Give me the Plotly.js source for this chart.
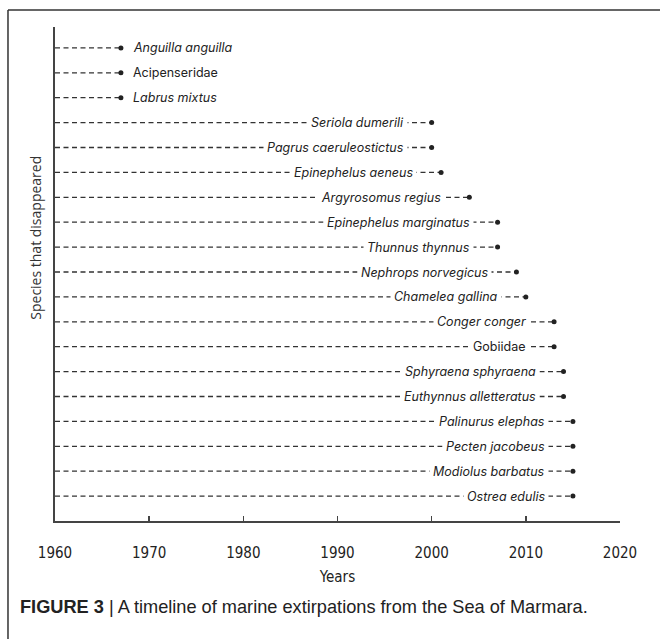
<!DOCTYPE html>
<html>
<head>
<meta charset="utf-8">
<script src="https://cdn.plot.ly/plotly-3.0.1.min.js"></script>
<style>
  html, body { margin: 0; padding: 0; background: #fff; }
  #chart { width: 660px; height: 639px; }
</style>
</head>
<body>
<div id="chart"></div>
<script>
// ---- data ----
const species = [
  "Anguilla anguilla", "Acipenseridae", "Labrus mixtus", "Seriola dumerili",
  "Pagrus caeruleostictus", "Epinephelus aeneus", "Argyrosomus regius",
  "Epinephelus marginatus", "Thunnus thynnus", "Nephrops norvegicus",
  "Chamelea gallina", "Conger conger", "Gobiidae", "Sphyraena sphyraena",
  "Euthynnus alletteratus", "Palinurus elephas", "Pecten jacobeus",
  "Modiolus barbatus", "Ostrea edulis"
];
const yearLost = [1967, 1967, 1967, 2000, 2000, 2001, 2004, 2007, 2007, 2009,
                  2010, 2013, 2013, 2014, 2014, 2015, 2015, 2015, 2015];
const italicName = [true, false, true, true, true, true, true, true, true, true,
                    true, true, false, true, true, true, true, true, true];
const labelRight = [true, true, true, false, false, false, false, false, false, false,
                    false, false, false, false, false, false, false, false, false];
const startYear = 1960;
const xTicks = [1960, 1970, 1980, 1990, 2000, 2010, 2020];
const xTitle = "Years";
const yTitle = "Species that disappeared";
const caption = "<b>FIGURE 3</b> | A timeline of marine extirpations from the Sea of Marmara.";

// ---- traces ----
const lx = [], ly = [];
species.forEach((s, i) => { lx.push(startYear, yearLost[i], null); ly.push(s, s, null); });

const dashTrace = {
  type: "scatter", mode: "lines", x: lx, y: ly,
  line: { color: "#333", width: 1.3, dash: "5px,3.5px" },
  hoverinfo: "skip", showlegend: false, connectgaps: false
};
const dotTrace = {
  type: "scatter", mode: "markers", x: yearLost, y: species,
  marker: { color: "#222", size: 5 },
  showlegend: false
};

const labelFont = { family: "Inter, 'Open Sans', sans-serif", size: 12.5, color: "#222" };
const annotations = species.map((s, i) => ({
  x: yearLost[i], y: s, xref: "x", yref: "y",
  text: italicName[i] ? "<i>" + s + "</i>" : s,
  showarrow: false,
  xanchor: labelRight[i] ? "left" : "right",
  yanchor: "middle",
  xshift: labelRight[i] ? 8 : -24,
  bgcolor: "#fff", borderpad: 3,
  font: labelFont
}));

// y title (offset from axis centre, as in the figure)
annotations.push({
  xref: "paper", yref: "paper", x: -0.034, y: 0.573,
  text: yTitle, textangle: -90, showarrow: false,
  xanchor: "center", yanchor: "middle",
  font: { family: "'Open Sans', sans-serif", size: 14, color: "#333" }
});
// caption
annotations.push({
  xref: "paper", yref: "paper", x: -0.0655, y: -0.174,
  text: caption, showarrow: false, xanchor: "left", yanchor: "middle",
  font: { family: "'Liberation Sans', Arial, sans-serif", size: 18.2, color: "#222" }
});

const shapes = [
  { type: "line", xref: "paper", yref: "paper", x0: -0.0832, x1: 1.08, y0: 1.0344, y1: 1.0344,
    line: { color: "#333", width: 1.5 } },
  { type: "line", xref: "paper", yref: "paper", x0: -0.0832, x1: -0.0832, y0: 1.0344, y1: -0.25,
    line: { color: "#333", width: 1.5 } }
];

const tickFamily = "'DejaVu Sans Condensed', 'Liberation Sans Narrow', sans-serif";
const layout = {
  width: 660, height: 639,
  margin: { l: 55, r: 40, t: 27, b: 118, pad: 0 },
  paper_bgcolor: "#fff", plot_bgcolor: "#fff",
  showlegend: false,
  xaxis: {
    range: [1960, 2020], tickvals: xTicks, ticktext: xTicks.map(String),
    showgrid: false, zeroline: false,
    showline: true, linecolor: "#444", linewidth: 2,
    ticks: "inside", ticklen: 5, tickwidth: 1.5, tickcolor: "#444",
    ticklabelstandoff: 17,
    tickfont: { family: tickFamily, size: 15, color: "#222" },
    title: { text: xTitle, standoff: 10,
      font: { family: tickFamily, size: 15, color: "#222" } },
    automargin: false, fixedrange: true
  },
  yaxis: {
    type: "category", categoryorder: "array", categoryarray: species,
    range: [19.0, -0.84],
    showgrid: false, zeroline: false, showticklabels: false, ticks: "",
    showline: true, linecolor: "#444", linewidth: 2,
    automargin: false, fixedrange: true
  },
  annotations: annotations,
  shapes: shapes
};

Plotly.newPlot("chart", [dashTrace, dotTrace], layout, { displayModeBar: false, staticPlot: true });
</script>
</body>
</html>
